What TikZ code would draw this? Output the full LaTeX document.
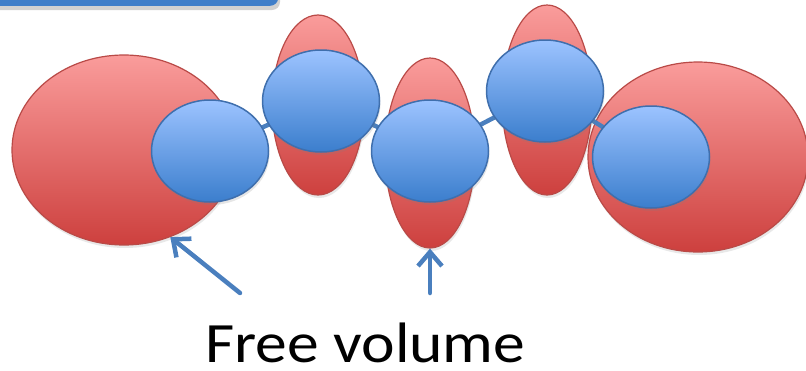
\documentclass[tikz,border=0pt]{standalone}
\usepackage{fontspec}
\usepackage{graphicx}
\setmainfont{Carlito}
\usetikzlibrary{shapes.geometric,arrows.meta,shadows}
\definecolor{redtop}{HTML}{FA9C9B}
\definecolor{redbot}{HTML}{CD403E}
\definecolor{redline}{HTML}{B94A47}
\definecolor{bluetop}{HTML}{9CC3FF}
\definecolor{bluebot}{HTML}{3B7ECD}
\definecolor{blueline}{HTML}{3F6FAD}
\definecolor{bondblue}{HTML}{4A7FBE}
\definecolor{banner}{HTML}{3F7EC9}
\pgfdeclarelayer{lobes}
\pgfdeclarelayer{bonds}
\pgfsetlayers{lobes,bonds,main}
\tikzset{
  lobe/.style={ellipse, draw=redline, line width=1.2pt, top color=redtop, bottom color=redbot,
    inner sep=0pt, drop shadow={shadow xshift=1pt, shadow yshift=-3pt, opacity=0.18}},
  bead/.style={ellipse, draw=blueline, line width=1.5pt, top color=bluetop, bottom color=bluebot,
    inner sep=0pt, minimum width=117pt, minimum height=102pt,
    drop shadow={shadow xshift=1pt, shadow yshift=-3pt, opacity=0.2}},
  bond/.style={draw=bondblue, line width=4.5pt},
  pointer/.style={draw=bondblue, line width=4.5pt, line cap=round,
    -{Straight Barb[length=14pt,width=24pt,line width=4.5pt]}},
}
\begin{document}
\begin{tikzpicture}[x=1pt,y=-1pt]
\useasboundingbox (0,0) rectangle (806,370);
% title banner, cut by the top edge
\fill[black,opacity=0.18,rounded corners=8pt] (-10,-20) rectangle (280,10);
\node[fill=banner, rounded corners=8pt, minimum width=290pt, minimum height=26pt, inner sep=0pt,
  anchor=south west] (banner) at (-12,6) {};
% free-volume lobes
\begin{pgfonlayer}{lobes}
\node[lobe, minimum width=224pt, minimum height=190pt] (r1) at (124,150) {};
\node[lobe, minimum width=92pt, minimum height=180pt] (r2) at (318,105) {};
\node[lobe, minimum width=90pt, minimum height=190pt] (r3) at (430,153) {};
\node[lobe, minimum width=90pt, minimum height=190pt] (r4) at (547,100) {};
\node[lobe, minimum width=220pt, minimum height=190pt] (r5) at (698,157) {};
\end{pgfonlayer}
% chain beads
\node[bead] (b1) at (210,151) {};
\node[bead] (b2) at (321,101) {};
\node[bead] (b3) at (430,151) {};
\node[bead] (b4) at (545,91) {};
\node[bead] (b5) at (651,157) {};
\begin{pgfonlayer}{bonds}
\draw[bond] (b1.center) -- (b2.center) -- (b3.center) -- (b4.center) -- (b5.center);
\end{pgfonlayer}
% label and pointers
\node[anchor=base west, inner sep=0pt, font=\fontsize{57}{60}\selectfont] (lbl) at (205,362)
  {\scalebox{1.115}[1]{Free volume}};
\coordinate (t1) at (240,293);
\coordinate (t2) at (430,293);
\draw[pointer] (t1) -- (r1.-62);
\draw[pointer] (t2) -- (r3.south);
\end{tikzpicture}
\end{document}
